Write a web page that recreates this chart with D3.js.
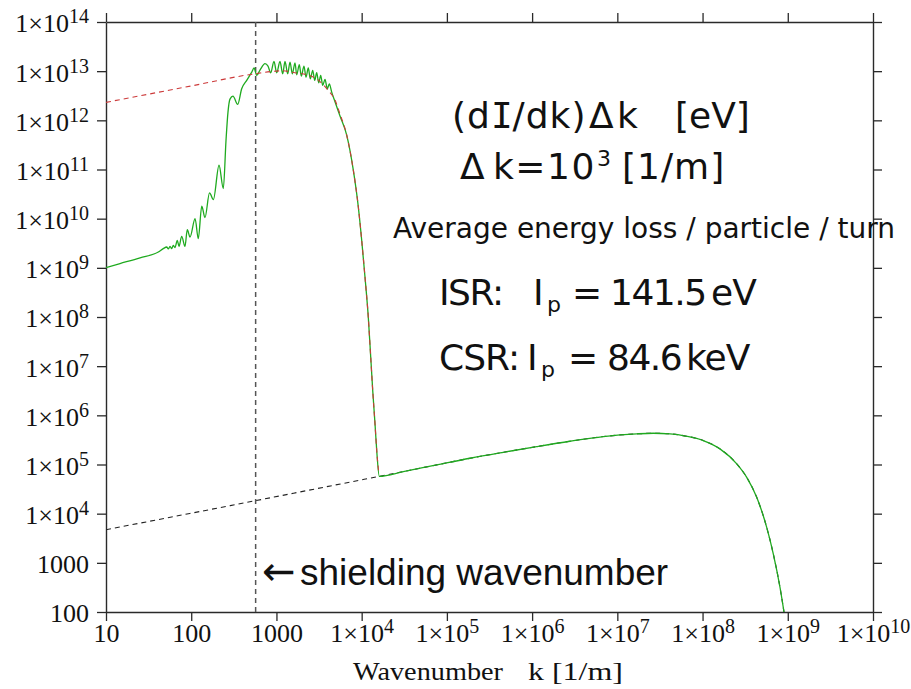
<!DOCTYPE html>
<html>
<head>
<meta charset="utf-8">
<script src="https://cdn.jsdelivr.net/npm/d3@7"></script>
<style>
  html, body { margin: 0; padding: 0; background: #fff; }
  svg { display: block; }
</style>
</head>
<body>
<svg id="chart" width="911" height="689"></svg>
<script>
// Coherent (shielded) CSR spectrum, total curve up to the drop at ~1.6e4 /m
const csrK = [10, 14.6, 25.1, 41.1, 47.0, 51.6, 53.8, 56.4, 59.0, 61.6, 64.5, 68.7, 71.9, 77.3,
  84.5, 89.9, 96.8, 111, 121, 133, 145, 164, 182, 212, 238, 256, 270, 285, 309, 351, 391, 448,
  513, 546, 587, 641, 734, 796, 856, 936, 1007, 1101, 1184, 1260, 1356, 1443, 1535, 1651, 1729,
  1855, 1957, 2105, 2222, 2364, 2496, 2665, 2812, 2968, 3133, 3307, 3491, 3715, 3954, 4172,
  4450, 4866, 5570, 6675, 7980, 9135, 10010, 10940, 11960, 12770, 13480, 14340, 15020, 16110];
const csrV = [1.01e9, 1.22e9, 1.60e9, 2.10e9, 2.46e9, 2.65e9, 2.42e9, 2.74e9, 2.46e9, 2.87e9,
  2.58e9, 3.63e9, 2.74e9, 4.38e9, 2.74e9, 6.00e9, 4.24e9, 1.00e10, 3.93e9, 1.79e10, 1.05e10,
  3.34e10, 2.45e10, 1.22e11, 4.10e10, 3.95e11, 1.47e12, 2.70e12, 3.11e12, 2.11e12, 4.38e12,
  6.50e12, 9.59e12, 1.16e13, 8.21e12, 1.05e13, 1.42e13, 1.27e13, 9.28e12, 1.58e13, 9.28e12,
  1.58e13, 8.85e12, 1.58e13, 8.85e12, 1.53e13, 8.85e12, 1.48e13, 8.45e12, 1.35e13, 7.95e12,
  1.27e13, 7.59e12, 1.16e13, 7.00e12, 1.04e13, 6.50e12, 9.28e12, 5.80e12, 8.21e12, 5.14e12,
  6.81e12, 4.38e12, 5.54e12, 3.75e12, 2.38e12, 1.22e12, 5.00e11, 9.68e10, 1.73e10, 3.63e9,
  6.49e8, 9.95e7, 1.53e7, 3.20e6, 6.71e5, 1.92e5, 5.75e4];

// Free-space (unshielded) CSR
const freeK = [10, 100, 535, 1184, 1651, 2364, 3097, 3954, 4866, 5570, 6675, 7980, 9135, 10010,
  10940, 11960, 12770, 13480, 14340, 15020, 15760];
const freeV = [2.32e12, 5.0e12, 8.73e12, 1.02e13, 9.28e12, 8.33e12, 6.59e12, 4.26e12, 2.58e12,
  1.34e12, 5.00e11, 9.68e10, 1.73e10, 3.63e9, 6.49e8, 9.95e7, 1.53e7, 3.20e6, 6.71e5, 1.92e5, 7.51e4];

// Incoherent synchrotron radiation
const isrK = [10, 571, 16110, 30810, 75960, 1.87e5, 4.59e5, 1.13e6, 2.78e6, 6.85e6, 1.69e7,
  2.64e7, 4.15e7, 6.52e7, 1.02e8, 1.60e8, 2.52e8, 3.30e8, 4.32e8, 5.66e8, 6.77e8, 8.11e8, 9.03e8];
const isrV = [4.72e3, 1.84e4, 5.75e4, 7.17e4, 9.82e4, 1.34e5, 1.77e5, 2.31e5, 2.97e5, 3.70e5,
  4.20e5, 4.32e5, 4.20e5, 3.75e5, 3.07e5, 2.08e5, 1.03e5, 5.48e4, 2.15e4, 5.26e3, 1.51e3, 315, 100];

const shieldK = 570;

const xTicks = [1e1, 1e2, 1e3, 1e4, 1e5, 1e6, 1e7, 1e8, 1e9, 1e10];
const yTicks = [1e2, 1e3, 1e4, 1e5, 1e6, 1e7, 1e8, 1e9, 1e10, 1e11, 1e12, 1e13, 1e14];

const plot = { left: 106, top: 22, right: 873, bottom: 612 };

const svg = d3.select('#chart');
const x = d3.scaleLog().domain([1e1, 1e10]).range([plot.left, plot.right]);
const y = d3.scaleLog().domain([1e2, 1e14]).range([plot.bottom, plot.top]);

const serif = "'Liberation Serif', 'DejaVu Serif', serif";
const sans = "'DejaVu Sans', 'Noto Sans', sans-serif";
const slabI = "'DejaVu Sans Mono', 'DejaVu Sans', monospace";

// Tick label: plain number up to 1000, then 1×10^n
function writeTick(textSel, v) {
  const e = Math.round(Math.log10(v));
  textSel.text(null);
  if (e <= 3) {
    textSel.text(String(Math.round(v)));
  } else {
    textSel.append('tspan').text('1×10');
    textSel.append('tspan').attr('dy', -9).attr('font-size', 20).text(String(e));
  }
}

function styleAxis(g) {
  g.attr('font-family', serif).attr('font-size', 26).attr('color', '#2a2a2a');
  g.selectAll('path.domain').attr('stroke-width', 1.4);
  g.selectAll('.tick line').attr('stroke-width', 1.3);
  g.selectAll('.tick text').attr('fill', '#111');
}

// Bottom axis with labels
const gB = svg.append('g').attr('transform', `translate(0,${plot.bottom})`)
  .call(d3.axisBottom(x).tickValues(xTicks).tickSize(9).tickSizeOuter(0).tickPadding(3));
styleAxis(gB);
gB.selectAll('.tick text').each(function (d) { writeTick(d3.select(this), d); });

// Left axis with labels
const gL = svg.append('g').attr('transform', `translate(${plot.left},0)`)
  .call(d3.axisLeft(y).tickValues(yTicks).tickSize(9).tickSizeOuter(0).tickPadding(8));
styleAxis(gL);
gL.selectAll('.tick text').attr('dy', '0.38em').each(function (d) { writeTick(d3.select(this), d); });

// Top and right frame axes, ticks only
const gT = svg.append('g').attr('transform', `translate(0,${plot.top})`)
  .call(d3.axisTop(x).tickValues(xTicks).tickSize(9).tickSizeOuter(0).tickFormat(''));
styleAxis(gT);
const gR = svg.append('g').attr('transform', `translate(${plot.right},0)`)
  .call(d3.axisRight(y).tickValues(yTicks).tickSize(9).tickSizeOuter(0).tickFormat(''));
styleAxis(gR);

// Axis title
svg.append('text').attr('x', 353).attr('y', 680).attr('font-family', serif).attr('font-size', 26)
  .attr('textLength', 150).attr('lengthAdjust', 'spacingAndGlyphs').attr('fill', '#111').text('Wavenumber');
svg.append('text').attr('x', 528).attr('y', 680).attr('font-family', serif).attr('font-size', 26)
  .attr('textLength', 95).attr('lengthAdjust', 'spacingAndGlyphs').attr('fill', '#111').text('k [1/m]');

// Curves
svg.append('clipPath').attr('id', 'plotclip').append('rect')
  .attr('x', plot.left).attr('y', plot.top)
  .attr('width', plot.right - plot.left).attr('height', plot.bottom - plot.top);

const zip = (ks, vs) => ks.map((k, i) => [k, vs[i]]);
const line = d3.line().x(d => x(d[0])).y(d => y(d[1])).curve(d3.curveMonotoneX);

const curves = svg.append('g').attr('clip-path', 'url(#plotclip)');

const isrPts = zip(isrK, isrV);
const totalPts = zip(csrK, csrV).concat(isrPts.filter(d => d[0] > csrK[csrK.length - 1]));

// shielding wavenumber marker
curves.append('line')
  .attr('x1', x(shieldK)).attr('x2', x(shieldK))
  .attr('y1', y(1e14)).attr('y2', y(1e2))
  .attr('stroke', '#555').attr('stroke-width', 1.5).attr('stroke-dasharray', '5,4');

curves.append('path').datum(isrPts).attr('d', line)
  .attr('fill', 'none').attr('stroke', '#222').attr('stroke-width', 1.1).attr('stroke-dasharray', '5,4');

curves.append('path').datum(totalPts).attr('d', line)
  .attr('fill', 'none').attr('stroke', '#1faa1f').attr('stroke-width', 1.3);

curves.append('path').datum(zip(freeK, freeV)).attr('d', line)
  .attr('fill', 'none').attr('stroke', '#cc3a3a').attr('stroke-width', 1.1).attr('stroke-dasharray', '5,4');

// Annotations
const note = svg.append('g').attr('font-family', sans).attr('fill', '#111');

const l1 = note.append('text').attr('y', 128).attr('font-size', 36);
l1.append('tspan').attr('x', 452).attr('letter-spacing', 1).text('(d');
l1.append('tspan').attr('font-family', slabI).attr('letter-spacing', 0).text('I');
l1.append('tspan').attr('letter-spacing', 1).text('/dk)');
l1.append('tspan').attr('x', 589).text('Δ');
l1.append('tspan').attr('x', 617).text('k');
l1.append('tspan').attr('x', 675).text('[eV]');

const l2 = note.append('text').attr('y', 179).attr('font-size', 36);
l2.append('tspan').attr('x', 460).text('Δ');
l2.append('tspan').attr('x', 493).attr('letter-spacing', 1.5).text('k=10');
l2.append('tspan').attr('x', 597).attr('y', 166).attr('font-size', 22).text('3');
l2.append('tspan').attr('x', 622).attr('y', 179).attr('letter-spacing', 1).text('[1/m]');

note.append('text').attr('x', 393).attr('y', 238).attr('font-size', 28)
  .text('Average energy loss / particle / turn');

const l4 = note.append('text').attr('y', 305).attr('font-size', 36);
l4.append('tspan').attr('x', 439).attr('letter-spacing', -1.5).text('ISR:');
l4.append('tspan').attr('x', 533).text('I');
l4.append('tspan').attr('x', 547).attr('y', 312).attr('font-size', 22).text('p');
l4.append('tspan').attr('x', 572).attr('y', 305).text('=');
l4.append('tspan').attr('x', 610).attr('letter-spacing', -1.5).text('141.5');
l4.append('tspan').attr('x', 711).attr('letter-spacing', -1).text('eV');

const l5 = note.append('text').attr('y', 370).attr('font-size', 36);
l5.append('tspan').attr('x', 439).attr('letter-spacing', -1).text('CSR:');
l5.append('tspan').attr('x', 527).text('I');
l5.append('tspan').attr('x', 541).attr('y', 377).attr('font-size', 22).text('p');
l5.append('tspan').attr('x', 568).attr('y', 370).text('=');
l5.append('tspan').attr('x', 607).attr('letter-spacing', -1.5).text('84.6');
l5.append('tspan').attr('x', 686).attr('letter-spacing', -1).text('keV');

const shieldNote = svg.append('text').attr('y', 585)
  .attr('font-family', "'Liberation Sans', Arial, sans-serif").attr('font-size', 37).attr('fill', '#111');
shieldNote.append('tspan').attr('x', 262).attr('font-family', "'DejaVu Sans', sans-serif").attr('font-size', 40).text('←');
shieldNote.append('tspan').attr('x', 300).text('shielding wavenumber');
</script>
</body>
</html>
